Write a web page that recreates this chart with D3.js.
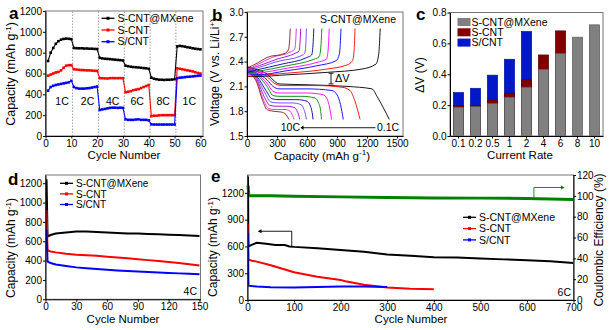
<!DOCTYPE html>
<html lang="en">
<head>
<meta charset="utf-8">
<title>Rate and cycling performance</title>
<script src="https://d3js.org/d3.v7.min.js"></script>
<style>
  body { margin: 0; background: #fff; }
  svg { display: block; font-family: Arial, "Liberation Sans", sans-serif; }
</style>
</head>
<body>
<svg id="fig" width="610" height="330"></svg>
<script>
// ---- data ----
const seriesNames = ["S-CNT@MXene", "S-CNT", "S/CNT"];
const seriesColors = ["#000000", "#ff0000", "#0000ff"];

// a: rate capability, cycles 1..60
const aCycles = d3.range(1, 61);
const aMx = [720,800,845,885,910,925,932,935,933,930, 845,843,842,842,840,840,838,838,836,835,
             750,745,742,740,738,735,733,730,728,725, 675,670,665,662,660,658,655,652,650,645,
             560,550,545,540,540,538,540,540,542,545, 860,865,862,858,852,848,842,838,835,832];
const aS  = [579,590,600,610,615,630,655,675,680,680, 640,638,635,633,632,630,630,628,626,625,
             555,555,553,552,555,556,555,555,556,555, 420,425,430,440,445,450,460,470,480,490,
             190,195,195,198,200,200,200,200,200,200, 650,645,640,635,630,625,620,612,605,600];
const aSC = [435,470,482,490,495,500,505,510,515,530, 470,460,455,455,455,458,460,465,470,475,
             250,255,260,265,270,272,272,270,272,270, 160,155,155,155,158,160,155,155,155,150,
             112,110,110,110,110,110,110,110,110,110, 555,560,562,565,568,570,572,575,578,580];
const aSteps = [10.5, 20.5, 30.5, 40.5, 50.5];
const aRateLabels = ["1C", "2C", "4C", "6C", "8C", "1C"];
const aRateAt = [6.4, 16.3, 26, 35.5, 45.6, 55.7];

// b: charge/discharge profiles, 0.1C (black) .. 10C (brown)
const bColors = ["#000000","#ff0000","#0000ff","#ff00ff","#008000","#000099","#6a3cff","#9900cc","#cc33cc","#8b1a1a"];
const bCharge = [
  [[0,2.22],[100,2.22],[400,2.24],[800,2.27],[1150,2.31],[1290,2.37],[1318,2.5],[1332,2.8]],
  [[0,2.22],[100,2.23],[400,2.26],[800,2.31],[1000,2.36],[1055,2.41],[1072,2.55],[1080,2.8]],
  [[0,2.24],[100,2.24],[400,2.29],[700,2.35],[890,2.41],[925,2.5],[940,2.8]],
  [[0,2.25],[100,2.26],[400,2.32],[700,2.39],[795,2.43],[812,2.55],[822,2.8]],
  [[0,2.26],[100,2.28],[400,2.35],[650,2.42],[722,2.46],[740,2.6],[748,2.8]],
  [[0,2.27],[100,2.3],[350,2.37],[600,2.45],[646,2.48],[660,2.6],[668,2.8]],
  [[0,2.28],[100,2.32],[300,2.4],[540,2.47],[576,2.5],[588,2.6],[594,2.8]],
  [[0,2.3],[100,2.34],[300,2.43],[480,2.5],[521,2.53],[531,2.65],[537,2.8]],
  [[0,2.3],[100,2.36],[250,2.45],[440,2.52],[476,2.55],[487,2.65],[493,2.8]],
  [[0,2.32],[100,2.38],[200,2.45],[380,2.5],[416,2.55],[426,2.65],[433,2.8]]
];
const bDischarge = [
  [[0,2.34],[100,2.3],[200,2.25],[260,2.18],[320,2.13],[600,2.12],[1000,2.1],[1250,2.07],[1300,1.98],[1360,1.85],[1423,1.7]],
  [[0,2.33],[100,2.28],[200,2.22],[270,2.14],[350,2.11],[700,2.11],[950,2.09],[1030,2.05],[1080,1.92],[1131,1.7]],
  [[0,2.32],[100,2.26],[200,2.18],[260,2.1],[320,2.07],[600,2.07],[850,2.05],[900,2.0],[935,1.88],[963,1.7]],
  [[0,2.32],[100,2.25],[200,2.14],[260,2.04],[320,2.02],[600,2.02],[760,2.0],[800,1.95],[825,1.85],[846,1.7]],
  [[0,2.31],[100,2.24],[200,2.1],[260,1.99],[320,1.98],[550,1.98],[680,1.96],[715,1.9],[735,1.82],[745,1.7]],
  [[0,2.3],[100,2.22],[190,2.05],[250,1.95],[320,1.94],[500,1.94],[600,1.92],[635,1.86],[652,1.78],[661,1.7]],
  [[0,2.3],[100,2.2],[180,2.02],[240,1.91],[320,1.9],[450,1.9],[540,1.88],[570,1.82],[585,1.76],[594,1.7]],
  [[0,2.29],[100,2.18],[170,1.98],[230,1.87],[300,1.86],[400,1.86],[480,1.84],[505,1.79],[520,1.74],[527,1.7]],
  [[0,2.28],[100,2.16],[160,1.95],[220,1.83],[280,1.82],[380,1.82],[430,1.8],[455,1.75],[470,1.7]],
  [[0,2.28],[100,2.14],[150,1.95],[200,1.82],[260,1.8],[340,1.79],[390,1.76],[410,1.72],[419,1.7]]
];

// c: polarization
const cRates = ["0.1","0.2","0.5","1","2","4","6","8","10"];
const cMx = [0.186,0.19,0.21,0.251,0.316,0.432,0.534,0.64,0.72];
const cS  = [0.197,0.199,0.233,0.277,0.363,0.525,0.681,null,null];
const cSC = [0.281,0.309,0.394,0.497,0.677,null,null,null,null];
const cColors = ["#808080", "#800000", "#0018c8"];
const cStroke = ["#5a5a5a", "#5a0000", "#0010a0"];

// d: cycling at 4C
const dCycles = [1,2,5,10,20,30,40,50,60,70,80,90,100,110,120,130,140,150];
const dMx = [1240,650,665,680,690,700,700,695,690,685,680,680,675,672,668,664,660,655];
const dS  = [920,505,495,485,470,460,455,450,440,432,425,415,405,395,385,375,362,350];
const dSC = [720,390,375,360,345,330,320,312,305,298,292,287,282,278,273,268,263,258];

// e: long cycling at 6C
const eMxCycles = [1,2,10,20,40,60,80,90,100,150,200,250,300,350,400,450,500,550,600,650,700];
const eMx = [1380,600,620,640,630,615,615,600,595,580,560,540,510,495,480,475,465,455,445,435,415];
const eSCycles = [1,2,10,20,50,100,150,200,210,250,300,350,400];
const eS = [850,450,440,430,390,310,260,225,210,170,140,125,120];
const eSCCycles = [1,2,20,50,100,150,200,250,300];
const eSC = [750,160,150,142,140,145,150,150,145];
const eCECycles = [1,3,50,100,200,300,400,500,600,700];
const eCE = [110,100,100,99.5,99,98.5,98,97.8,97.5,96.5];

// ---- helpers ----
const svg = d3.select("#fig");

function axes(g, xs, ys, o) {
  const [xa, xb] = xs.range();
  const [yb, ya] = ys.range();
  g.append("rect").attr("x", xa).attr("y", ya).attr("width", xb - xa).attr("height", yb - ya)
    .attr("fill", "none").attr("stroke", "#777").attr("stroke-width", 1);
  const ax = g.append("g").attr("transform", `translate(0,${yb})`)
    .call(d3.axisBottom(xs).tickValues(o.xt).tickFormat(o.xf || (d => d)).tickSize(2.5).tickSizeOuter(0).tickPadding(1.5));
  const ay = g.append("g").attr("transform", `translate(${xa},0)`)
    .call(d3.axisLeft(ys).tickValues(o.yt).tickFormat(o.yf || (d => d)).tickSize(2.5).tickSizeOuter(0).tickPadding(1));
  [ax, ay].forEach(a => {
    a.attr("font-family", null).attr("font-size", 10);
    a.selectAll("text").attr("fill", "#000");
    a.select(".domain").attr("stroke", "#000");
  });
  return g;
}

function title(g, x, y, rot, before, sup, after, size) {
  const t = g.append("text").attr("text-anchor", "middle").attr("font-size", size || 11)
    .attr("transform", `translate(${x},${y})` + (rot ? " rotate(-90)" : ""));
  t.append("tspan").text(before);
  if (sup) {
    t.append("tspan").attr("font-size", 8).attr("dy", -4.5).text(sup);
    t.append("tspan").attr("dy", 4.5).text(after);
  }
  return t;
}

function letter(x, y, s) {
  svg.append("text").attr("x", x).attr("y", y).attr("font-size", 17).attr("font-weight", "bold").text(s);
}

function legendRows(g, x, y0, dy, size) {
  seriesNames.forEach((n, i) => {
    const y = y0 + i * dy;
    g.append("line").attr("x1", x).attr("x2", x + 13).attr("y1", y).attr("y2", y)
      .attr("stroke", seriesColors[i]).attr("stroke-width", 1.3);
    g.append("rect").attr("x", x + 5).attr("y", y - 1.5).attr("width", 3).attr("height", 3).attr("fill", seriesColors[i]);
    g.append("text").attr("x", x + 16).attr("y", y + 3.6).attr("font-size", size || 10).text(n);
  });
}

// ---- panel a ----
const gA = svg.append("g");
const xA = d3.scaleLinear([0, 61], [45.5, 203]);
const yA = d3.scaleLinear([0, 1200], [136, 11]);
gA.selectAll("line.step").data(aSteps).enter().append("line")
  .attr("x1", d => xA(d)).attr("x2", d => xA(d)).attr("y1", yA(0)).attr("y2", yA(1200))
  .attr("stroke", "#777").attr("stroke-width", 0.7).attr("stroke-dasharray", "1.5,1.5");
[aMx, aS, aSC].forEach((v, i) => {
  const pts = v.map((d, k) => [aCycles[k], d]);
  gA.append("path").datum(pts).attr("fill", "none").attr("stroke", seriesColors[i]).attr("stroke-width", 1.1)
    .attr("d", d3.line().x(d => xA(d[0])).y(d => yA(d[1])));
  gA.selectAll(null).data(pts).enter().append("rect")
    .attr("x", d => xA(d[0]) - 1.3).attr("y", d => yA(d[1]) - 1.3).attr("width", 2.6).attr("height", 2.6)
    .attr("fill", seriesColors[i]);
});
axes(gA, xA, yA, {xt: d3.range(0, 61, 10), yt: d3.range(0, 1201, 200)});
gA.selectAll("text.rate").data(aRateLabels).enter().append("text")
  .attr("x", (d, i) => xA(aRateAt[i])).attr("y", yA(300)).attr("text-anchor", "middle").attr("font-size", 10.5).text(d => d);
legendRows(gA, 101.5, 18.3, 11.7, 10.5);
title(gA, 124, 159, false, "Cycle Number", null, null, 11.5);
title(gA, 15, 74, true, "Capacity (mAh g", "-1", ")", 12.5);
letter(9, 19, "a");

// ---- panel b ----
const gB = svg.append("g");
const xB = d3.scaleLinear([0, 1560], [247, 403]);
const yB = d3.scaleLinear([1.5, 3.0], [136, 12]);
const lineB = d3.line().x(d => xB(d[0])).y(d => yB(d[1])).curve(d3.curveMonotoneX);
bDischarge.forEach((c, i) => {
  gB.append("path").datum(c).attr("fill", "none").attr("stroke", bColors[i]).attr("stroke-width", 0.9).attr("d", lineB);
});
bCharge.forEach((c, i) => {
  gB.append("path").datum(c).attr("fill", "none").attr("stroke", bColors[i]).attr("stroke-width", 0.9).attr("d", lineB);
});
axes(gB, xB, yB, {xt: d3.range(0, 1501, 300), yt: [1.5,1.8,2.1,2.4,2.7,3.0], yf: d3.format(".1f")});
gB.append("text").attr("x", xB(1490)).attr("y", yB(2.87)).attr("text-anchor", "end").attr("font-size", 10.5).text("S-CNT@MXene");
// delta V marker
const dvx = xB(840);
gB.append("line").attr("x1", dvx).attr("x2", dvx).attr("y1", yB(2.26)).attr("y2", yB(2.13)).attr("stroke", "#000").attr("stroke-width", 0.9);
[2.26, 2.13].forEach(v => gB.append("line").attr("x1", dvx - 2.5).attr("x2", dvx + 2.5).attr("y1", yB(v)).attr("y2", yB(v)).attr("stroke", "#000").attr("stroke-width", 0.9));
gB.append("text").attr("x", dvx + 4).attr("y", yB(2.15)).attr("font-size", 11).text("\u0394V");
// rate arrow
gB.append("text").attr("x", xB(530)).attr("y", yB(1.56)).attr("text-anchor", "end").attr("font-size", 10.5).text("10C");
gB.append("text").attr("x", xB(1300)).attr("y", yB(1.56)).attr("font-size", 10.5).text("0.1C");
gB.append("line").attr("x1", xB(545)).attr("x2", xB(1285)).attr("y1", yB(1.6)).attr("y2", yB(1.6)).attr("stroke", "#000").attr("stroke-width", 0.9);
gB.append("path").attr("d", d3.line()([[xB(535), yB(1.6)], [xB(565), yB(1.6) - 2.2], [xB(565), yB(1.6) + 2.2]])).attr("fill", "#000");
title(gB, 322, 159.5, false, "Capacity (mAh g", "-1", ")", 11.5);
title(gB, 219, 72, true, "Voltage (V vs. Li/Li", "+", ")", 12);
letter(212, 21, "b");

// ---- panel c ----
const gC = svg.append("g");
const xC = d3.scaleBand(cRates, [450, 603]).paddingInner(0.4).paddingOuter(0.2);
const yC = d3.scaleLinear([0, 0.8], [136, 12.5]);
[cSC, cS, cMx].forEach((v, j) => {
  const i = 2 - j;
  gC.selectAll(null).data(v.map((d, k) => [cRates[k], d]).filter(d => d[1] != null)).enter().append("rect")
    .attr("x", d => xC(d[0])).attr("width", xC.bandwidth())
    .attr("y", d => yC(d[1])).attr("height", d => yC(0) - yC(d[1]))
    .attr("fill", cColors[i]).attr("stroke", cStroke[i]).attr("stroke-width", 0.7);
});
axes(gC, xC, yC, {xt: cRates, yt: [0, 0.2, 0.4, 0.6, 0.8], yf: d3.format(".1f")});
seriesNames.forEach((n, i) => {
  const y = 22 + i * 10.3;
  gC.append("rect").attr("x", 457.5).attr("y", y - 4).attr("width", 13).attr("height", 8).attr("fill", cColors[i]);
  gC.append("text").attr("x", 471.5).attr("y", y + 3.7).attr("font-size", 10.5).text(n);
});
title(gC, 520, 158.5, false, "Current Rate", null, null, 11.5);
title(gC, 424, 75, true, "\u0394V (V)", null, null, 12);
letter(416, 20, "c");

// ---- panel d ----
const gD = svg.append("g");
const xD = d3.scaleLinear([0, 151], [45.5, 200.5]);
const yD = d3.scaleLinear([0, 1285], [299.3, 175]);
[dMx, dS, dSC].forEach((v, i) => {
  gD.append("path").datum(v.map((d, k) => [dCycles[k], d])).attr("fill", "none")
    .attr("stroke", seriesColors[i]).attr("stroke-width", 2)
    .attr("d", d3.line().x(d => xD(d[0])).y(d => yD(d[1])));
});
axes(gD, xD, yD, {xt: d3.range(0, 151, 30), yt: d3.range(0, 1201, 200)});
legendRows(gD, 60, 183.3, 10.6, 10);
gD.append("text").attr("x", 197).attr("y", yD(45)).attr("text-anchor", "end").attr("font-size", 10.5).text("4C");
title(gD, 123, 323, false, "Cycle Number", null, null, 11.5);
title(gD, 15, 248, true, "Capacity (mAh g", "-1", ")", 12);
letter(8, 185, "d");

// ---- panel e ----
const gE = svg.append("g");
const xE = d3.scaleLinear([0, 700], [247.5, 573.5]);
const yE = d3.scaleLinear([0, 1400], [300, 175]);
const yE2 = d3.scaleLinear([0, 120], [300, 175]);
gE.append("path").datum(eCE.map((d, k) => [eCECycles[k], d])).attr("fill", "none")
  .attr("stroke", "#008000").attr("stroke-width", 3)
  .attr("d", d3.line().x(d => xE(d[0])).y(d => yE2(d[1])));
[[eMxCycles, eMx], [eSCycles, eS], [eSCCycles, eSC]].forEach((s, i) => {
  gE.append("path").datum(s[1].map((d, k) => [s[0][k], d])).attr("fill", "none")
    .attr("stroke", seriesColors[i]).attr("stroke-width", 2)
    .attr("d", d3.line().x(d => xE(d[0])).y(d => yE(d[1])));
});
axes(gE, xE, yE, {xt: d3.range(0, 701, 100), yt: d3.range(0, 1201, 300)});
const ar = gE.append("g").attr("transform", `translate(${xE(700)},0)`)
  .call(d3.axisRight(yE2).tickValues(d3.range(0, 121, 20)).tickSize(2.5).tickSizeOuter(0).tickPadding(1));
ar.attr("font-family", null).attr("font-size", 10);
ar.select(".domain").attr("stroke", "#000");
legendRows(gE, 463, 217.3, 11.3, 10.5);
gE.append("text").attr("x", 571).attr("y", yE(45)).attr("text-anchor", "end").attr("font-size", 10.5).text("6C");
// axis pointer arrows
gE.append("path").attr("fill", "none").attr("stroke", "#000").attr("stroke-width", 0.9)
  .attr("d", d3.line()([[xE(95), yE(605)], [xE(95), yE(770)], [xE(27), yE(770)]]));
gE.append("path").attr("fill", "#000").attr("d", d3.line()([[xE(22), yE(770)], [xE(30), yE(770) - 2], [xE(30), yE(770) + 2]]));
gE.append("path").attr("fill", "none").attr("stroke", "#008000").attr("stroke-width", 0.9)
  .attr("d", d3.line()([[xE(615), yE2(98)], [xE(615), yE2(108)], [xE(675), yE2(108)]]));
gE.append("path").attr("fill", "#008000").attr("d", d3.line()([[xE(681), yE2(108)], [xE(673), yE2(108) - 2], [xE(673), yE2(108) + 2]]));
title(gE, 411, 323, false, "Cycle Number", null, null, 11.5);
title(gE, 217, 247, true, "Capacity (mAh g", "-1", ")", 12);
title(gE, 603, 240, true, "Coulombic Efficiency (%)", null, null, 12);
letter(211, 182, "e");
</script>
</body>
</html>
